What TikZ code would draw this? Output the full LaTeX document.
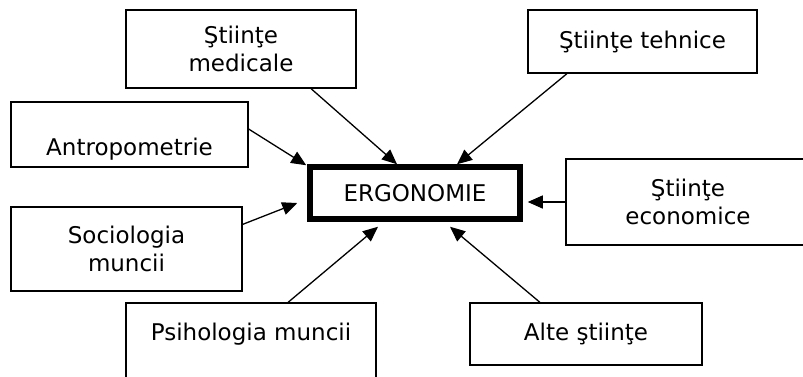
\documentclass[tikz,border=0pt]{standalone}
\usepackage{fontspec}
\setmainfont{DejaVu Sans}
\usepackage{tikz}
\usetikzlibrary{arrows.meta}

\begin{document}
\begin{tikzpicture}[x=1pt,y=-1pt]

          \tikzstyle{box} = [draw, line width=1.2pt, inner sep=0pt, align=center, font=\fontsize{23}{28}\selectfont];
          \tikzstyle{mainBox} = [box, line width=5.5pt];
          \tikzstyle{arrowEdge} = [line width=1.3pt, -{Triangle[length=15pt,width=13pt]}];

          \useasboundingbox (0,0) rectangle (803,376);

          \node[box, minimum width=230pt, minimum height=78pt] (med) at (241,49) {Ştiinţe\\medicale};
          \node[box, minimum width=229pt, minimum height=63pt] (teh) at (642.5,41.5) {Ştiinţe tehnice};
          \node[box, minimum width=237pt, text height=53pt, text depth=12pt, anchor=base] (antro) at (129.5,155) {Antropometrie};
          \node[mainBox, minimum width=210pt, minimum height=52pt] (ergo) at (415,193) {ERGONOMIE};
          \node[box, minimum width=244pt, minimum height=86pt] (eco) at (688,202) {Ştiinţe\\economice};
          \node[box, minimum width=231pt, minimum height=84pt] (soc) at (126.5,249) {Sociologia\\muncii};
          \node[box, minimum width=250pt, text height=37pt, text depth=50pt, anchor=base] (psi) at (251,340) {Psihologia muncii};
          \node[box, minimum width=232pt, minimum height=62pt] (alte) at (586,334) {Alte ştiinţe};

          \draw[arrowEdge] ([xshift=70pt]med.south) -- ([xshift=-18pt]ergo.north);
          \draw[arrowEdge] ([xshift=-75.5pt]teh.south) -- ([xshift=42pt]ergo.north);
          \draw[arrowEdge] ([yshift=5.5pt]antro.east) -- ([xshift=-1pt,yshift=-1pt]ergo.north west);
          \draw[arrowEdge] (eco.west) -- ([xshift=5pt]eco.west -| ergo.east);
          \draw[arrowEdge] ([yshift=-18pt]soc.north east) -- ([xshift=-10pt,yshift=-10pt]ergo.west);
          \draw[arrowEdge] ([xshift=37pt]psi.north) -- ([xshift=-37pt,yshift=-5pt]ergo.south);
          \draw[arrowEdge] ([xshift=-46pt]alte.north) -- ([xshift=35pt,yshift=-5pt]ergo.south);
        \end{tikzpicture}
\end{document}
